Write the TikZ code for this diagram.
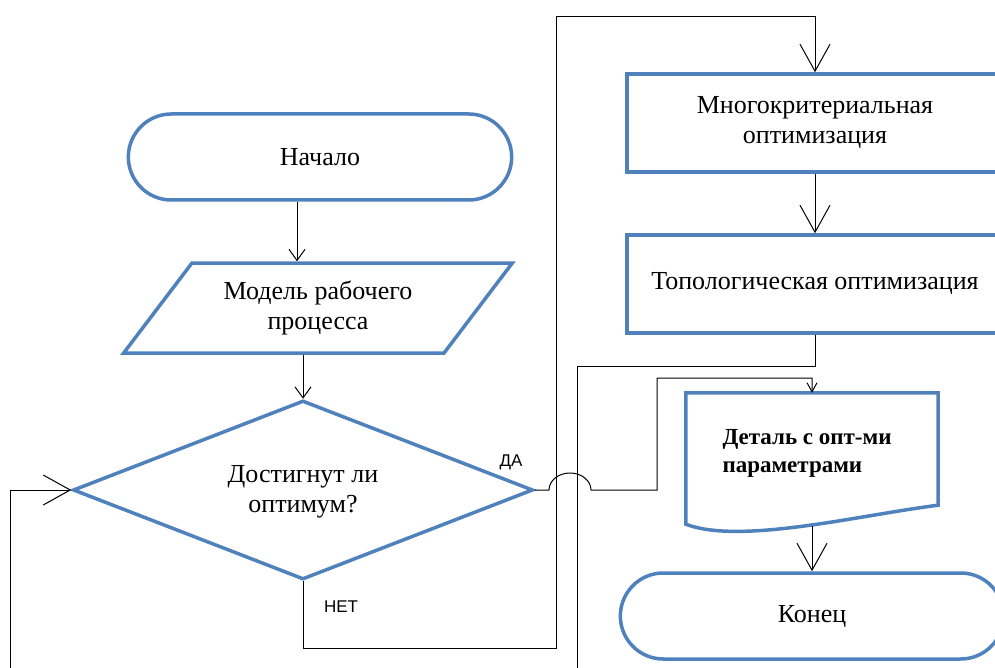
\documentclass[tikz,border=0pt]{standalone}
\usepackage{fontspec}
\setmainfont{Liberation Serif}
\newfontfamily\labelfont{Liberation Sans}
\usepackage{tikz}
\usetikzlibrary{calc,shapes.geometric,shapes.misc,arrows.meta}
\definecolor{boxblue}{RGB}{79,129,189}
\tikzset{
% Node styles for the flowchart: terminal, input, decision, process, document
term node/.style={rounded rectangle,draw=boxblue,line width=3.5pt,minimum width=390pt,minimum height=86pt},
io node/.style={trapezium,trapezium left angle=49,trapezium right angle=131,trapezium stretches=true,draw=boxblue,line width=3.5pt,minimum width=390pt,minimum height=90pt,align=center},
decision node/.style={diamond,draw=boxblue,line width=3.5pt,minimum width=460pt,minimum height=179pt,inner sep=0pt},
proc node/.style={rectangle,draw=boxblue,line width=3.5pt,minimum width=376pt,minimum height=98pt,align=center},
doc node/.style={rectangle,minimum width=252pt,minimum height=133pt,inner sep=0pt},
% Connector styles and the yes/no labels
big arrow/.style={line width=1pt,-{Straight Barb[length=27pt,width=30pt]}},
small arrow/.style={line width=1pt,-{Straight Barb[length=11pt,width=16pt]}},
tiny arrow/.style={line width=1pt,-{Straight Barb[length=9pt,width=10pt]}},
yn label/.style={font=\labelfont\fontsize{17}{19}\selectfont}
}
\begin{document}
\begin{tikzpicture}[x=1pt,y=-1pt,font=\fontsize{26}{30}\selectfont]
      \useasboundingbox (0,0) rectangle (995,668);
      \clip (0,0) rectangle (995,668);
      % Left column
      \node(beg)[term node] at (320,157) {Начало};
      \node(mod)[io node] at (318,308) {Модель рабочего\\процесса};
      \node(dec)[decision node,label={[align=center,yshift=-2pt]center:Достигнут ли\\оптимум?}] at (303,490) {};
      % Right column
      \node(mo)[proc node] at (815,123) {Многокритериальная\\оптимизация};
      \node(to)[proc node] at (815,284) {Топологическая оптимизация};
      \node(det)[doc node] at (812,459.5) {};
      \node(dett)[anchor=west,align=left,font=\fontsize{23}{28}\selectfont\bfseries] at (719,453) {Деталь с опт-ми\\параметрами};
      \node(fin)[term node] at (812,616) {Конец};
      % Document outline with a wavy bottom
      \draw[boxblue,line width=3.5pt] ($(det.south west)+(0,-2)$) -- (det.north west) -- (det.north east)
        -- ($(det.south east)+(0,-21)$) .. controls (860,515) and (740,545) .. ($(det.south west)+(0,-2)$) -- cycle;
      % Yes / no labels
      \node(da)[yn label] at (511,462) {ДА};
      \node(net)[yn label] at (341,607) {НЕТ};
      % Connectors
      \draw[small arrow] ([xshift=-23pt]beg.south) -- ([xshift=-23pt]beg.south |- mod.north);
      \draw[small arrow] (mod.south -| dec.north) -- (dec.north);
      % NO branch up to the first optimisation
      \draw[big arrow] (dec.south) |- (556,648) -- (556,17) -| (mo.north);
      \draw[big arrow] (mo) -- (to);
      % Back to the decision
      \draw[big arrow] (to.south) |- (577,366) |- (10,700) |- (dec.west);
      % YES branch, jumping over the two lines
      \draw[tiny arrow] (dec.east) -- (549,490) arc[start angle=180,end angle=0,x radius=21pt,y radius=17pt]
        -- (657,490) |- (det.north |- 0,378) -- (det.north);
      \draw[big arrow] (det.south) -- (fin.north);
\end{tikzpicture}
\end{document}
